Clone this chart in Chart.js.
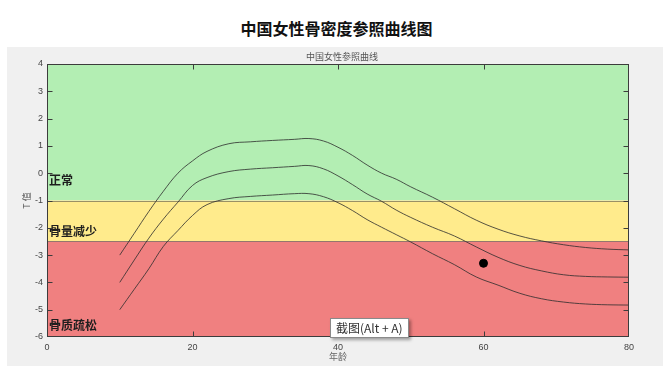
<!DOCTYPE html>
<html>
<head>
<meta charset="utf-8">
<script src="https://cdn.jsdelivr.net/npm/chart.js@4/dist/chart.umd.min.js"></script>
<style>
  body { margin: 0; background: #fff; }
  #title {
    position: absolute; left: 0; top: 17px; width: 673px; text-align: center;
    font: bold 16px "Noto Sans CJK SC", sans-serif; line-height: 22px; color: #111;
  }
  #panel { position: absolute; left: 7px; top: 47px; width: 656px; height: 319px; background: #f0f0f0; }
  #snip {
    position: absolute; left: 330px; top: 318px; height: 18px; line-height: 18px;
    padding: 0 5px; background: #fff; border: 1px solid #8a8a8a;
    box-shadow: 2px 2px 3px rgba(0,0,0,0.35);
    font: 12px "Noto Sans CJK SC", sans-serif; color: #333;
  }
</style>
</head>
<body>
<div id="title">中国女性骨密度参照曲线图</div>
<div id="panel"><canvas id="chart" width="656" height="319"></canvas></div>
<div id="snip">截图(Alt + A)</div>
<script>
// reference curves (T value by age)
const ages = [10, 12, 14, 16, 18, 20, 22, 25, 28, 31, 34, 36, 38, 40, 42, 44, 46, 48, 50, 53, 56, 59, 62, 65, 68, 71, 74, 77, 80];
const upperT = [-3.0, -2.2, -1.4, -0.66, 0.0, 0.45, 0.8, 1.08, 1.15, 1.2, 1.24, 1.27, 1.18, 0.95, 0.65, 0.3, 0.0, -0.22, -0.5, -0.88, -1.3, -1.72, -2.05, -2.3, -2.48, -2.62, -2.72, -2.78, -2.81];
const middleT = [-4.0, -3.18, -2.38, -1.68, -1.06, -0.45, -0.16, 0.06, 0.15, 0.2, 0.25, 0.28, 0.16, -0.1, -0.42, -0.76, -1.03, -1.35, -1.62, -1.98, -2.3, -2.7, -3.08, -3.38, -3.58, -3.72, -3.78, -3.8, -3.81];
const lowerT = [-5.0, -4.25, -3.5, -2.68, -2.1, -1.55, -1.15, -0.93, -0.85, -0.8, -0.75, -0.75, -0.86, -1.08, -1.37, -1.7, -1.98, -2.25, -2.52, -2.95, -3.35, -3.8, -4.1, -4.4, -4.6, -4.72, -4.79, -4.82, -4.83];

// measured patient
const patientAge = [60];
const patientT = [-3.3];

// zones: bounds from top to bottom
const zoneBounds = [4, -1, -2.5, -6];
const zoneNames = ['正常', '骨量减少', '骨质疏松'];
const zoneLabelT = [-0.25, -2.15, -5.56];

const xTickValues = [0, 20, 40, 60, 80];
const yTickValues = [4, 3, 2, 1, 0, -1, -2, -3, -4, -5, -6];

const zoneColors = ['#b3eeb3', '#ffeb8c', '#f08080'];

function toPoints(xs, ys) {
    return xs.map((x, i) => ({ x: x, y: ys[i] }));
}

const zonesPlugin = {
    id: 'zones',
    beforeDatasetsDraw(chart) {
        const ctx = chart.ctx, x = chart.scales.x, y = chart.scales.y;
        const left = x.getPixelForValue(0), right = x.getPixelForValue(80);
        ctx.save();
        for (let i = 0; i < zoneNames.length; i++) {
            const top = y.getPixelForValue(zoneBounds[i]);
            const bot = y.getPixelForValue(zoneBounds[i + 1]);
            ctx.fillStyle = zoneColors[i];
            ctx.fillRect(left, top, right - left, bot - top);
        }
        ctx.strokeStyle = 'rgba(70,70,70,0.55)';
        ctx.lineWidth = 1;
        for (let i = 1; i < zoneBounds.length - 1; i++) {
            const py = Math.round(y.getPixelForValue(zoneBounds[i])) + 0.5;
            ctx.beginPath();
            ctx.moveTo(left, py);
            ctx.lineTo(right, py);
            ctx.stroke();
        }
        ctx.restore();
    },
    afterDatasetsDraw(chart) {
        const ctx = chart.ctx, x = chart.scales.x, y = chart.scales.y;
        const a = chart.chartArea;
        ctx.save();
        // zone names
        ctx.font = 'bold 12px "Noto Sans CJK SC", sans-serif';
        ctx.fillStyle = '#1e1e1e';
        ctx.textAlign = 'left';
        ctx.textBaseline = 'middle';
        zoneNames.forEach((n, i) => ctx.fillText(n, a.left + 2, y.getPixelForValue(zoneLabelT[i])));
        // frame and inward ticks (skip the ones on the corners)
        ctx.strokeStyle = '#3c3c3c';
        ctx.lineWidth = 1;
        const l = Math.round(a.left) + 0.5, r = Math.round(a.right) - 0.5;
        const t = Math.round(a.top) + 0.5, b = Math.round(a.bottom) - 0.5;
        ctx.strokeRect(l, t, r - l, b - t);
        ctx.beginPath();
        xTickValues.slice(1, -1).forEach(v => {
            const px = Math.round(x.getPixelForValue(v)) + 0.5;
            ctx.moveTo(px, t); ctx.lineTo(px, t + 5);
            ctx.moveTo(px, b); ctx.lineTo(px, b - 5);
        });
        yTickValues.slice(1, -1).forEach(v => {
            const py = Math.round(y.getPixelForValue(v)) + 0.5;
            ctx.moveTo(l, py); ctx.lineTo(l + 5, py);
            ctx.moveTo(r, py); ctx.lineTo(r - 5, py);
        });
        ctx.stroke();
        // axes title
        ctx.font = '9px "Noto Sans CJK SC", sans-serif';
        ctx.fillStyle = '#555';
        ctx.textAlign = 'center';
        ctx.fillText('中国女性参照曲线', (a.left + a.right) / 2 + 4, 10);
        ctx.restore();
    }
};

const curveStyle = {
    borderColor: 'rgba(45,45,45,0.8)',
    borderWidth: 1,
    pointRadius: 0,
    fill: false,
    tension: 0.4
};

const ctx = document.getElementById('chart').getContext('2d');
const chart = new Chart(ctx, {
    type: 'line',
    data: {
        datasets: [
            Object.assign({ label: '上', data: toPoints(ages, upperT) }, curveStyle),
            Object.assign({ label: '中', data: toPoints(ages, middleT) }, curveStyle),
            Object.assign({ label: '下', data: toPoints(ages, lowerT) }, curveStyle),
            {
                label: '测量值',
                data: toPoints(patientAge, patientT),
                showLine: false,
                pointRadius: 4,
                pointBackgroundColor: '#000',
                pointBorderColor: '#000'
            }
        ]
    },
    options: {
        responsive: false,
        devicePixelRatio: 1,
        animation: false,
        layout: { padding: { left: 0, right: 34, top: 17, bottom: 0 } },
        plugins: {
            legend: { display: false },
            tooltip: { enabled: false },
            title: { display: false }
        },
        scales: {
            x: {
                type: 'linear', min: 0, max: 80,
                afterBuildTicks: s => { s.ticks = xTickValues.map(v => ({ value: v })); },
                ticks: { padding: 5, color: '#444', font: { size: 9, family: '"Liberation Sans", sans-serif' } },
                grid: { display: false, drawTicks: false },
                border: { display: false },
                title: { display: true, text: '年龄', color: '#666', font: { size: 9, family: '"Noto Sans CJK SC", sans-serif' }, padding: { top: 0, bottom: 4 } },
                afterFit: s => { s.height = 29; }
            },
            y: {
                min: -6, max: 4,
                afterBuildTicks: s => { s.ticks = yTickValues.map(v => ({ value: v })); },
                ticks: { padding: 4, color: '#444', font: { size: 9, family: '"Liberation Sans", sans-serif' } },
                grid: { display: false, drawTicks: false },
                border: { display: false },
                title: { display: true, text: 'T 值', color: '#555', font: { size: 9, family: '"Noto Sans CJK SC", sans-serif' }, padding: { top: 14, bottom: 0 } },
                afterFit: s => { s.width = 40; }
            }
        }
    },
    plugins: [zonesPlugin]
});
</script>
</body>
</html>
